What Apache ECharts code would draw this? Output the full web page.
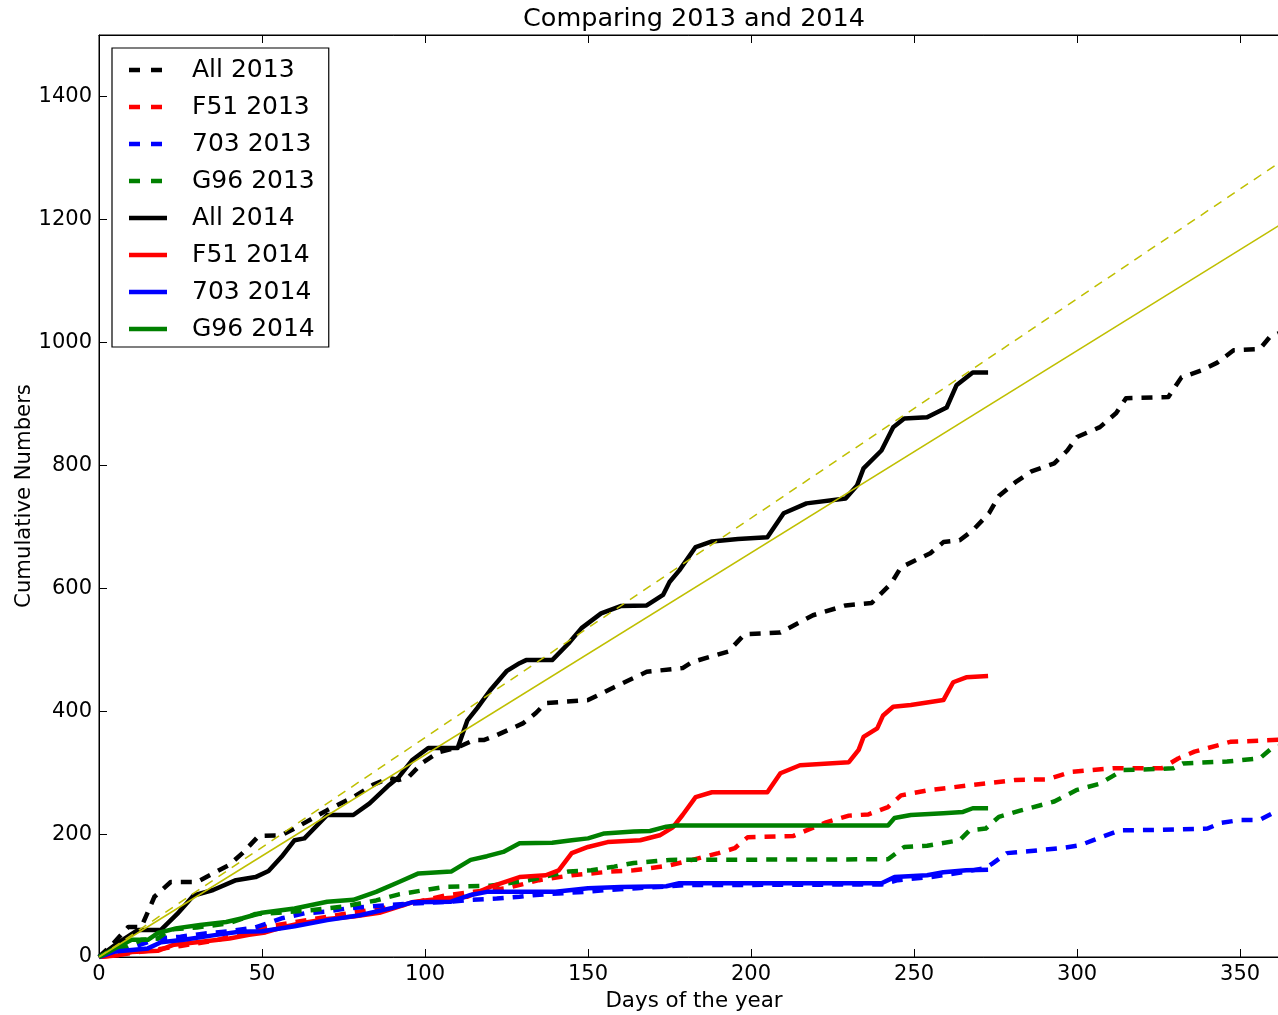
<!DOCTYPE html>
<html>
<head>
<meta charset="utf-8">
<script src="https://cdn.jsdelivr.net/npm/echarts@6/dist/echarts.min.js"></script>
<style>
html,body{margin:0;padding:0;background:#fff;}
#chart{width:1278px;height:1015px;}
</style>
</head>
<body>
<div id="chart"></div>
<script>
// ---- data (x = day of year, y = cumulative number) ----
const all2013 = [[0,0],[4,20],[9,49],[13,49],[17,98],[22,122],[30,122],[35,136],[40,150],[44,169],[49,197],[56,198],[62,215],[70,239],[78,260],[84,280],[89,291],[92,288],[95,293],[99,315],[104,333],[110,341],[115,353],[118,353],[122,361],[130,380],[134,397],[137,413],[150,418],[158,439],[168,464],[179,470],[182,480],[193,497],[198,525],[209,528],[219,556],[229,572],[237,576],[243,608],[246,634],[255,657],[259,675],[264,678],[268,694],[273,722],[276,750],[281,772],[286,790],[293,803],[297,824],[300,846],[307,862],[312,885],[315,909],[328,911],[332,943],[338,954],[343,967],[348,987],[356,989],[359,1008],[365,1022]];
const f51_2013 = [[0,0],[8,5],[15,10],[25,18],[35,26],[45,40],[50,48],[58,55],[66,62],[75,70],[85,78],[95,86],[106,100],[115,106],[125,112],[135,125],[145,133],[151,136],[157,139],[164,141],[174,148],[182,158],[190,169],[195,177],[199,195],[213,197],[217,206],[223,219],[230,230],[236,232],[242,244],[246,263],[254,271],[268,280],[281,288],[291,289],[298,301],[311,307],[326,307],[331,323],[336,334],[347,350],[360,353],[365,354]];
const p703_2013 = [[0,0],[5,8],[10,15],[18,30],[25,33],[32,38],[40,42],[48,48],[56,63],[63,71],[70,74],[76,79],[83,82],[90,85],[100,88],[108,90],[114,93],[122,95],[129,98],[134,101],[149,106],[156,109],[165,112],[175,115],[180,117],[240,118],[245,125],[255,130],[265,138],[272,145],[274,152],[278.5,169],[285,172],[295,177],[301,182],[305,190],[313,206],[326,207],[340,209],[344,218],[350,223],[356,223],[360,234],[365,236]];
const g96_2013 = [[0,0],[5,10],[10,20],[13,28],[18,30],[22,45],[30,48],[40,55],[48,70],[55,72],[65,76],[75,82],[85,92],[92,102],[100,109],[106,114],[120,116],[132,125],[144,139],[151,141],[158,147],[164,153],[171,156],[175,158],[242,159],[247,179],[254,181],[264,190],[267,206],[272,209],[276,228],[282.5,238],[293,253],[300,272],[307,282],[314,304],[329.5,307],[332.5,315],[346,318],[356,323],[360,341],[365,345]];
const all2014 = [[0,0],[5,20],[12,44],[19,44],[24,70],[29,100],[35,109],[42,125],[48,130],[52,140],[56,163],[60,190],[63,193],[70,231],[78,231],[83,250],[89,280],[92,293],[96,320],[101,340],[110,340],[113,385],[116,405],[120,434],[125,465],[129,478],[131,483],[139,483],[144,510],[148,535],[154,559],[160,571],[168,572],[173,589],[175,610],[178,629],[183,667],[188,676],[196,680],[205,683],[210,722],[217,738],[229,746],[232.5,767],[234.5,795],[240,824],[243.6,862],[247,876],[254,878],[260,894],[263,930],[268,951],[272.7,951]];
const f51_2014 = [[0,0],[6,3],[10,8],[18,10],[23,20],[30,24],[40,30],[46,36],[51,40],[56,48],[62,55],[70,62],[78,66],[86,72],[92,82],[96,89],[100,92],[107,96],[113,98],[120,114],[129,130],[137,133],[141,141],[145,169],[150,179],[156,187],[166,190],[172,198],[176,211],[179,231],[183,260],[188,268],[205,268],[209,299],[215,312],[230,317],[233,337],[234.5,358],[238.7,372],[240.5,393],[243.6,407],[249,410],[259,418],[262,447],[266,455],[272.7,457]];
const p703_2014 = [[0,0],[5,9],[15,14],[19,24],[26,28],[36,36],[43,41],[50,42],[60,50],[70,60],[80,68],[90,80],[96,89],[108,90],[114,101],[119,106],[140,106],[150,112],[160,114],[174,115],[178,120],[240,120],[244,130],[254,133],[259,138],[266,141],[272.7,142]];
const g96_2014 = [[0,0],[6,17],[10,28],[15,28],[18,39],[24,47],[31,52],[39,57],[44,63],[50,72],[60,79],[70,90],[78,93],[85,106],[92,122],[98,136],[108,139],[114,158],[119,164],[124,171],[129,185],[139,186],[145,190],[150,193],[155,201],[164,204],[169,205],[174,212],[177,214],[242,214],[244,226],[249,231],[259,234],[265,236],[268,242],[272.7,242]];
const trendSolid = [[0,0],[365,1200]];
const trendDashed = [[0,0],[365,1303]];
const xTicks = [0,50,100,150,200,250,300,350];
const yTicks = [0,200,400,600,800,1000,1200,1400];
const seriesNames = ['All 2013','F51 2013','703 2013','G96 2013','All 2014','F51 2014','703 2014','G96 2014'];

const FONT = 'DejaVu Sans';
const DASH = [11, 9];
const LW = 4.5;
const ICON_SOLID = 'path://M0,0h38v4.5h-38z';
const ICON_DASHED = 'path://M0,0h11v4.5h-11zM22,0h11v4.5h-11zM37.9,2h0.1v0.1h-0.1z';

function mk(name, data, color, dashed) {
  return {
    name: name, type: 'line', data: data, symbol: 'none', showSymbol: false,
    animation: false, clip: true,
    lineStyle: { color: color, width: LW, type: dashed ? DASH : 'solid', join: 'round' },
    itemStyle: { color: color },
    emphasis: { disabled: true }
  };
}

const chart = echarts.init(document.getElementById('chart'), null, { renderer: 'canvas' });
const option = {
  animation: false,
  backgroundColor: '#fff',
  graphic: [{
    type: 'text', x: 694, y: 19,
    style: { text: 'Comparing 2013 and 2014', font: '25.5px "DejaVu Sans"', fill: '#000', align: 'center', verticalAlign: 'middle' }
  }],
  grid: { left: 99, top: 35, right: -11, bottom: 58, outerBoundsMode: 'none', containLabel: false,
    show: true, borderColor: '#000', borderWidth: 1, backgroundColor: 'transparent' },
  legend: {
    orient: 'vertical', left: 112, top: 48,
    data: seriesNames.map(n => ({ name: n, icon: n.indexOf('2013') >= 0 ? ICON_DASHED : ICON_SOLID })),
    itemWidth: 38, itemHeight: 4.5, itemGap: 11,
    padding: [9, 14, 5, 17],
    borderColor: '#000', borderWidth: 1.2, backgroundColor: '#fff',
    itemStyle: { borderWidth: 0 },
    textStyle: { fontFamily: FONT, fontSize: 25, lineHeight: 26, color: '#000', padding: [0, 0, 0, 20] },
    selectedMode: false
  },
  xAxis: [{
    type: 'value', min: 0, max: 365, interval: 50,
    name: 'Days of the year', nameLocation: 'middle', nameGap: 34, nameMoveOverlap: false,
    nameTextStyle: { fontFamily: FONT, fontSize: 21.4, color: '#000' },
    axisLine: { lineStyle: { color: '#000', width: 1 } },
    axisTick: { inside: true, length: 8, lineStyle: { color: '#000' } },
    axisLabel: { fontFamily: FONT, fontSize: 21, color: '#000', margin: 7,
      formatter: v => xTicks.indexOf(v) >= 0 ? String(v) : '' },
    splitLine: { show: false }
  }, {
    type: 'value', min: 0, max: 365, interval: 50, position: 'top',
    axisLine: { lineStyle: { color: '#000', width: 1 } },
    axisTick: { inside: true, length: 8, lineStyle: { color: '#000' } },
    axisLabel: { show: false }, splitLine: { show: false }
  }],
  yAxis: [{
    type: 'value', min: 0, max: 1500, interval: 200,
    name: 'Cumulative Numbers', nameLocation: 'middle', nameGap: 64, nameRotate: 90, nameMoveOverlap: false,
    nameTextStyle: { fontFamily: FONT, fontSize: 21.2, color: '#000' },
    axisLine: { show: true, lineStyle: { color: '#000', width: 1 } },
    axisTick: { show: true, inside: true, length: 8, lineStyle: { color: '#000' } },
    axisLabel: { fontFamily: FONT, fontSize: 21, color: '#000', margin: 7, showMaxLabel: false,
      formatter: v => yTicks.indexOf(v) >= 0 ? String(v) : '' },
    splitLine: { show: false }
  }],
  series: [
    mk('All 2013', all2013, '#000000', true),
    mk('F51 2013', f51_2013, '#ff0000', true),
    mk('703 2013', p703_2013, '#0000ff', true),
    mk('G96 2013', g96_2013, '#008000', true),
    mk('All 2014', all2014, '#000000', false),
    mk('F51 2014', f51_2014, '#ff0000', false),
    mk('703 2014', p703_2014, '#0000ff', false),
    mk('G96 2014', g96_2014, '#008000', false),
    { name: 'trend solid', type: 'line', data: trendSolid, symbol: 'none', animation: false,
      lineStyle: { color: '#bfbf00', width: 1.5 }, emphasis: { disabled: true } },
    { name: 'trend dashed', type: 'line', data: trendDashed, symbol: 'none', animation: false,
      lineStyle: { color: '#bfbf00', width: 1.5, type: [9, 7] }, emphasis: { disabled: true } }
  ]
};
chart.setOption(option);
</script>
</body>
</html>
